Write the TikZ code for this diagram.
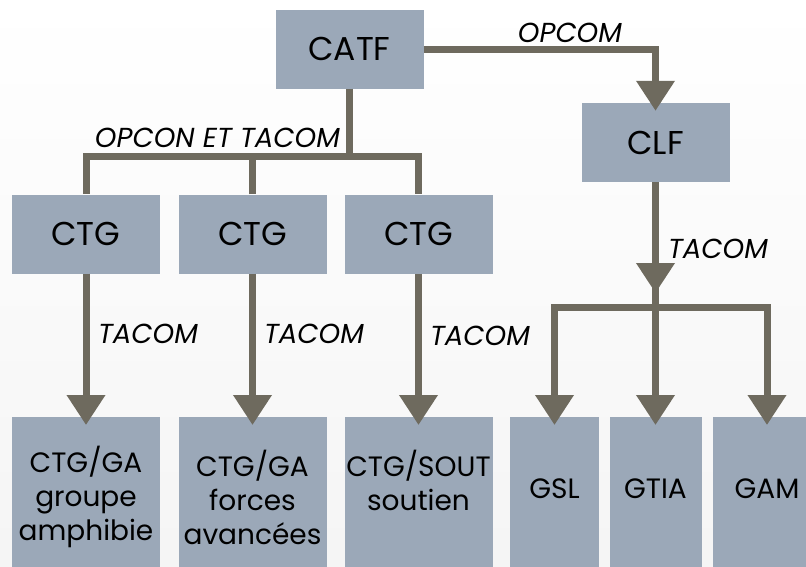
\documentclass[tikz,border=0pt]{standalone}
\usepackage{fontspec}
\setmainfont{Poppins}
\usetikzlibrary{arrows.meta,positioning}

\definecolor{boxgray}{RGB}{155,168,184}
\definecolor{linegray}{RGB}{110,106,94}

\begin{document}
\begin{tikzpicture}[x=1pt, y=-1pt,
    box/.style={fill=boxgray, minimum width=148pt, minimum height=79pt, inner sep=0pt, font=\fontsize{33}{36}\selectfont},
    lowbox/.style={fill=boxgray, anchor=north, minimum height=160pt, inner sep=0pt, align=center, font=\fontsize{28}{34}\selectfont},
    link/.style={draw=linegray, line width=7pt},
    arrow/.style={link, -{Triangle[width=37pt,length=30pt]}, shorten >=-8pt},
    tag/.style={font=\fontsize{27.5}{30}\selectfont\itshape, anchor=base}
]

% Background
\useasboundingbox (0,0) rectangle (806,566);
\shade[top color=white, bottom color=black!4] (0,0) rectangle (806,566);

% Top boxes
\node[box] (catf) at (349.5,49) {CATF};
\node[box] (clf) at (655.5,142.5) {CLF};
\node[box] (ctga) at (86,234) {CTG};
\node[box] (ctgb) at (252.5,234) {CTG};
\node[box] (ctgc) at (418.5,234) {CTG};

% Bottom boxes
\node[lowbox, minimum width=148pt] (amphi) at (86,417) {CTG/GA\\groupe\\amphibie};
\node[lowbox, minimum width=148pt] (avance) at (252.5,417) {CTG/GA\\forces\\avancées};
\node[lowbox, minimum width=148pt] (sout) at (418.5,417) {CTG/SOUT\\soutien\\~};
\node[lowbox, minimum width=89pt, text depth=18pt] (gsl) at (554.5,417) {GSL};
\node[lowbox, minimum width=92pt, text depth=18pt] (gtia) at (655.5,417) {GTIA};
\node[lowbox, minimum width=108pt, text depth=18pt] (gam) at (767,417) {GAM};

% OPCOM
\draw[arrow] (catf.east) -| (clf.north);
\node[tag] (opcom) at (570,42) {OPCOM};

% OPCON ET TACOM
\coordinate (split) at (349.5,156);
\draw[link] (catf) -- (split);
\draw[link] (split) -| (ctga.north);
\draw[link] (split) -| (ctgc.north);
\draw[link] (ctgb.north) -- (ctgb |- split);
\node[tag] (opcon) at (217.5,147) {OPCON ET TACOM};

% TACOM under the CTG
\draw[arrow] (ctga) -- (amphi);
\draw[arrow] (ctgb) -- (avance);
\draw[arrow] (ctgc) -- (sout);
\node[tag] (tacoma) at (148,343) {TACOM};
\node[tag] (tacomb) at (314,343) {TACOM};
\node[tag] (tacomc) at (480,345) {TACOM};

% TACOM under the CLF
\coordinate (clfend) at (655.5,293);
\coordinate (fork) at (655.5,307);
\draw[link] (clf) -- (fork);
\draw[arrow, shorten >=0pt] (clf) -- (clfend);
\draw[arrow] (fork) -| (gsl.north);
\draw[arrow] (fork) -- (gtia);
\draw[arrow] (fork) -| (gam.north);
\node[tag] (tacomd) at (718,258) {TACOM};

\end{tikzpicture}
\end{document}
